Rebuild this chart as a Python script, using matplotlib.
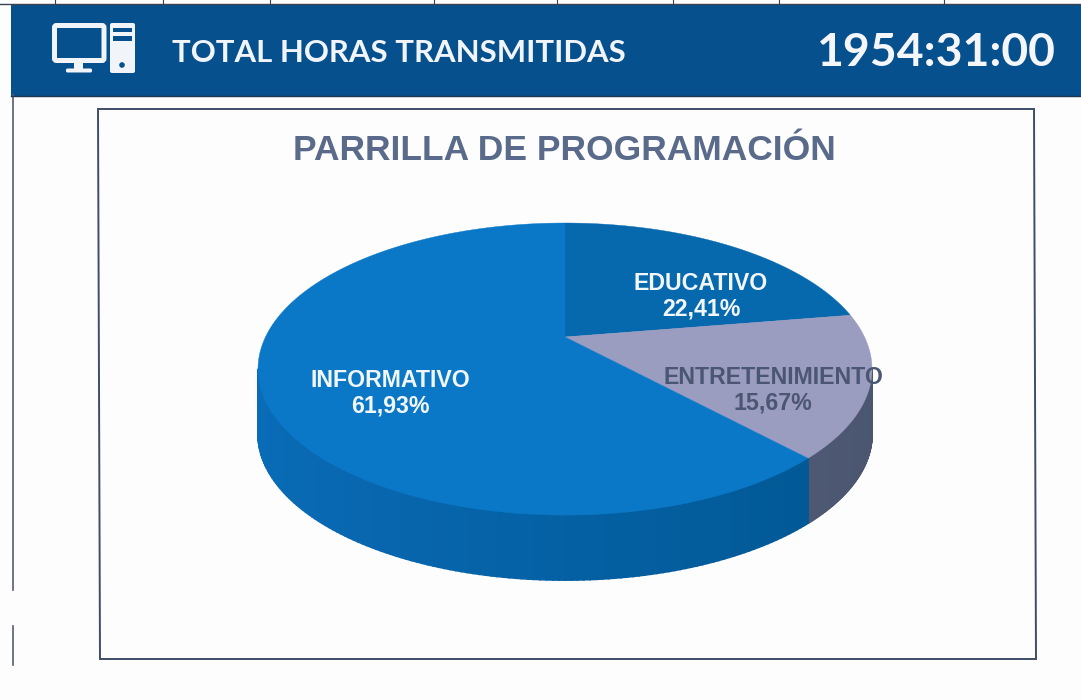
#!/usr/bin/env python3
"""Parrilla de programacion: pastel 3D con encabezado de horas transmitidas."""

import matplotlib
matplotlib.use("Agg")
import matplotlib.pyplot as plt
from matplotlib.patches import FancyBboxPatch, Polygon, Rectangle, Circle
from matplotlib.colors import to_rgb
import numpy as np

# Datos
categorias = ["EDUCATIVO", "ENTRETENIMIENTO", "INFORMATIVO"]
valores = [22.41, 15.67, 61.93]
etiquetas = ["22,41%", "15,67%", "61,93%"]
total_horas = "1954:31:00"
encabezado = "TOTAL HORAS TRANSMITIDAS"
titulo = "PARRILLA DE PROGRAMACIÓN"

# Estilos
colores_tapa = ["#0669ae", "#9a9cc0", "#0a78c6"]
colores_lado = [("#005a99", "#005a99"), ("#4a5570", "#646a80"), ("#00558f", "#0a6cb8")]
colores_texto = ["#f2f6fb", "#4a5672", "#f2f6fb"]
pos_etiquetas = [(701, 296), (773, 390), (390, 393)]
azul_banda = "#06508e"

# Geometria de la perspectiva (pixeles)
cx, cy = 565, 337
k = 0.2195
a, b = 299.5, 139
grosor = 65


def proyectar(t):
    """Pasa un angulo del circulo (radianes) a pixeles de la tapa."""
    u, v = np.cos(t), np.sin(t)
    d = 1 + k * v
    return cx + a * u / d, cy - b * v / d


def tapa(t1, t2):
    ts = np.linspace(t1, t2, 200)
    x, y = proyectar(ts)
    return np.column_stack([np.r_[cx, x], np.r_[cy, y]])


def mezcla(c1, c2, f):
    c1, c2 = np.array(to_rgb(c1)), np.array(to_rgb(c2))
    return tuple(c1 + (c2 - c1) * f)


fig = plt.figure(figsize=(10.81, 7.0), dpi=100, facecolor="#fdfdfe")
ax = fig.add_axes([0, 0, 1, 1])
ax.set_xlim(0, 1081)
ax.set_ylim(700, 0)
ax.axis("off")

# Restos de la tabla arriba y borde izquierdo
ax.plot([0, 1081], [3.5, 3.5], color="#39424f", lw=1)
for xs in [55, 163, 270, 434, 557, 673, 779, 944]:
    ax.plot([xs, xs], [0, 4], color="#39424f", lw=0.8)
ax.plot([12.5, 12.5], [95, 590], color="#565e6c", lw=1.2)
ax.plot([12.5, 12.5], [626, 665], color="#565e6c", lw=1.2)

# Banda
ax.add_patch(Rectangle((11, 5), 1070, 90.5, color=azul_banda, lw=0))
ax.plot([11, 1081], [96, 96], color="#1c3550", lw=1)
ax.text(172, 53, encabezado, color="#f1f4f8", fontsize=22.4, fontweight="bold",
        family="Lato", va="center", ha="left")
ax.text(1056, 53, total_horas, color="#f4f6fa", fontsize=33.4, fontweight="bold",
        family="Lato", va="center", ha="right")

# Icono monitor y torre
blanco = "#f1f4f8"
ax.add_patch(FancyBboxPatch((54.5, 25.5), 49.5, 35, boxstyle="round,pad=0,rounding_size=2",
                            fc="none", ec=blanco, lw=3.6))
ax.add_patch(Rectangle((74, 61), 9, 9, color=blanco, lw=0))
ax.add_patch(FancyBboxPatch((66, 68.5), 26, 4, boxstyle="round,pad=0,rounding_size=1.5",
                            fc=blanco, ec="none"))
ax.add_patch(FancyBboxPatch((110, 23), 25, 50, boxstyle="round,pad=0,rounding_size=2",
                            fc=blanco, ec="none"))
ax.add_patch(Rectangle((113, 28), 19, 4, color=azul_banda, lw=0))
ax.add_patch(Rectangle((113, 36), 19, 4.5, color=azul_banda, lw=0))
ax.add_patch(Circle((122, 65), 2.8, color=azul_banda, lw=0))

# Marco del grafico
ax.add_patch(Polygon([(98, 109), (1034, 109), (1036, 659), (100, 659)], closed=True,
                     fc="#fdfdfe", ec="#3f4d68", lw=1.4))
ax.text(564, 151, titulo, color="#5a6a8a", fontsize=25.5, fontweight="bold",
        family="Liberation Sans", ha="center", va="center")

# Angulos: arranca arriba y gira en sentido horario
acum = np.cumsum([0] + valores) / sum(valores) * 2 * np.pi
inicios = np.pi / 2 - acum[:-1]
finales = np.pi / 2 - acum[1:]

# Lados de cada porcion, solo la parte que da al frente
for i in range(len(valores)):
    ts = np.linspace(inicios[i], finales[i], 240)
    for j in range(len(ts) - 1):
        tm = (ts[j] + ts[j + 1]) / 2
        if np.sin(tm) > -k:
            continue
        f = (np.cos(tm) * -1 + 1) / 2
        x, y = proyectar(np.array([ts[j], ts[j + 1]]))
        c = mezcla(*colores_lado[i], f)
        ax.add_patch(Polygon([(x[0], y[0]), (x[1], y[1]), (x[1], y[1] + grosor), (x[0], y[0] + grosor)],
                             closed=True, fc=c, ec=c, lw=1.2))

# Tapa
for i in range(len(valores)):
    ax.add_patch(Polygon(tapa(inicios[i], finales[i]), closed=True,
                         fc=colores_tapa[i], ec=colores_tapa[i], lw=0.3))

# Etiquetas
for i in range(len(valores)):
    ax.text(pos_etiquetas[i][0], pos_etiquetas[i][1], categorias[i] + "\n" + etiquetas[i],
            color=colores_texto[i], fontsize=16.7, fontweight="bold",
            family="Liberation Sans", ha="center", va="center", linespacing=1.12)

fig.savefig("out.png", dpi=100, facecolor=fig.get_facecolor())
